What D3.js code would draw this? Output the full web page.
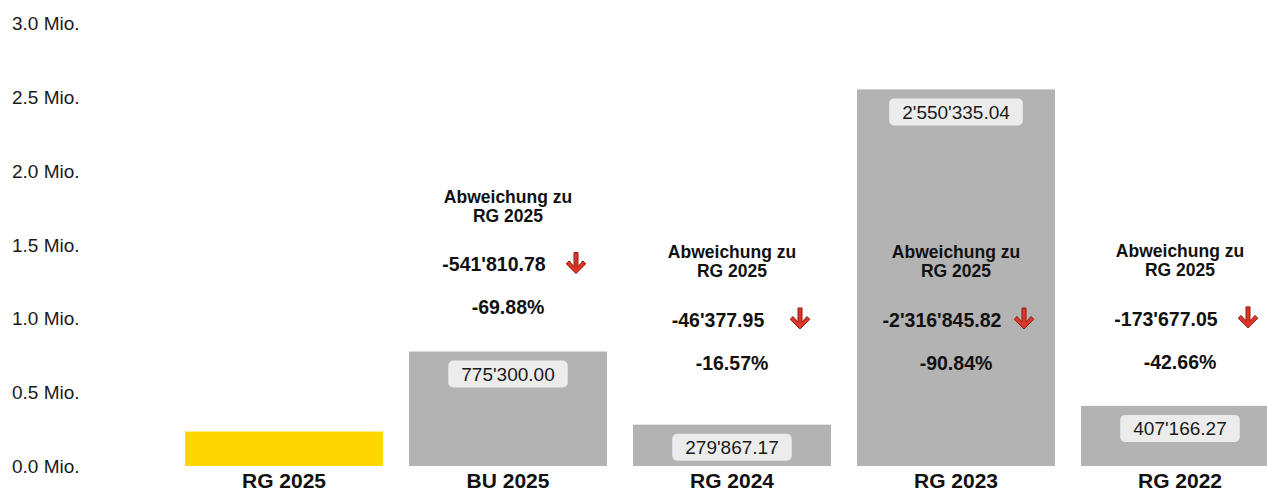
<!DOCTYPE html>
<html>
<head>
<meta charset="utf-8">
<script src="https://cdn.jsdelivr.net/npm/d3@7"></script>
<style>
  html, body { margin: 0; padding: 0; background: #ffffff; overflow: hidden; }
  svg { display: block; font-family: "Liberation Sans", Arial, Helvetica, sans-serif; }
</style>
</head>
<body>
<svg id="chart" width="1267" height="493"></svg>
<script>
// Categories and amounts (CHF)
const categories = ["RG 2025", "BU 2025", "RG 2024", "RG 2023", "RG 2022"];
const amounts = [233489.22, 775300.00, 279867.17, 2550335.04, 407166.27];
const referenceIndex = 0; // RG 2025 is the comparison base
const deviationTitle = ["Abweichung zu", "RG 2025"];
const yTicks = [0, 500000, 1000000, 1500000, 2000000, 2500000, 3000000];

const svg = d3.select("#chart");

const x = d3.scaleBand()
  .domain(categories)
  .range([172, 1292])
  .paddingInner(26 / 224)
  .paddingOuter(13 / 224);

const y = d3.scaleLinear()
  .domain([0, 3000000])
  .range([466, 23]);

const swiss = v => d3.format(",.2f")(v).replace(/,/g, "'");
const signed = (v, f) => (v < 0 ? "-" : "") + f(Math.abs(v));
const fmtPct = p => signed(p, a => d3.format(".2f")(a)) + "%";
const fmtMio = v => d3.format(".1f")(v / 1e6) + " Mio.";

// Y axis: labels only
const yAxis = d3.axisLeft(y).tickValues(yTicks).tickFormat(fmtMio).tickSize(0);
const yg = svg.append("g").attr("transform", "translate(12,0)").call(yAxis);
yg.select(".domain").remove();
yg.selectAll("text")
  .attr("x", 0)
  .attr("text-anchor", "start")
  .attr("dy", "0.35em")
  .style("font-size", "19px")
  .style("font-family", "\"Liberation Sans\", Arial, sans-serif")
  .attr("fill", "#1a1a1a");

// X axis: bold category labels under the bars
const xAxis = d3.axisBottom(x).tickSize(0);
const xg = svg.append("g").attr("transform", `translate(0,${y(0)})`).call(xAxis);
xg.select(".domain").remove();
xg.selectAll("text")
  .attr("y", 0)
  .attr("dy", "1.05em")
  .style("font-size", "21px")
  .style("font-weight", "bold")
  .style("font-family", "\"Liberation Sans\", Arial, sans-serif")
  .attr("fill", "#111");

const rows = categories.map((c, i) => ({ c, v: amounts[i], i }));

// Bars
svg.append("g").selectAll("rect")
  .data(rows)
  .join("rect")
  .attr("x", d => x(d.c))
  .attr("y", d => y(d.v))
  .attr("width", x.bandwidth())
  .attr("height", d => y(0) - y(d.v))
  .attr("fill", d => d.i === referenceIndex ? "#ffd700" : "#b3b3b3");

// Value pills inside comparison bars
const pills = svg.append("g").selectAll("g")
  .data(rows.filter(d => d.i !== referenceIndex))
  .join("g")
  .attr("transform", d => `translate(${x(d.c) + x.bandwidth() / 2},${y(d.v) + 9})`);

pills.each(function (d) {
  const g = d3.select(this);
  const t = g.append("text")
    .attr("x", 0)
    .attr("y", 13.5)
    .attr("dy", "0.35em")
    .attr("text-anchor", "middle")
    .style("font-size", "19px")
    .attr("fill", "#1a1a1a")
    .text(swiss(d.v));
  const w = t.node().getComputedTextLength() + 26;
  g.insert("rect", "text")
    .attr("x", -w / 2)
    .attr("y", 0)
    .attr("width", w)
    .attr("height", 27)
    .attr("rx", 5)
    .attr("fill", "#ececec");
});

// Deviation annotations relative to the reference amount
const base = amounts[referenceIndex];
const defaultPctY = 363;
const blockHeight = 111; // from first title line to percentage line
const arrowPath = "M-2,-10 L2,-10 L2,4 L7,-1.5 L9.8,1.3 L0,11 L-9.8,1.3 L-7,-1.5 L-2,4 Z";

const notes = svg.append("g").selectAll("g")
  .data(rows.filter(d => d.i !== referenceIndex))
  .join("g")
  .attr("transform", d => {
    const top = y(d.v);
    const fitsInside = top < defaultPctY - blockHeight - 30;
    const pctY = fitsInside ? defaultPctY : Math.min(defaultPctY, top - 44);
    return `translate(${x(d.c) + x.bandwidth() / 2},${pctY})`;
  });

notes.each(function (d) {
  const g = d3.select(this);
  const diff = base - d.v;
  const pct = diff / d.v * 100;
  deviationTitle.forEach((line, k) => {
    g.append("text")
      .attr("x", 0)
      .attr("y", -111 + k * 19)
      .attr("dy", "0.35em")
      .attr("text-anchor", "middle")
      .style("font-size", "17.5px")
      .style("font-weight", "bold")
      .attr("fill", "#111")
      .text(line);
  });
  g.append("text")
    .attr("x", -14)
    .attr("y", -43)
    .attr("dy", "0.35em")
    .attr("text-anchor", "middle")
    .style("font-size", "19.5px")
    .style("font-weight", "bold")
    .attr("fill", "#111")
    .text(signed(diff, swiss));
  g.append("path")
    .attr("d", arrowPath)
    .attr("transform", "translate(68,-45)")
    .attr("fill", "#dd3526")
    .attr("stroke", "#8e1d12")
    .attr("stroke-width", 1)
    .attr("stroke-linejoin", "round");
  g.append("text")
    .attr("x", 0)
    .attr("y", 0)
    .attr("dy", "0.35em")
    .attr("text-anchor", "middle")
    .style("font-size", "19.5px")
    .style("font-weight", "bold")
    .attr("fill", "#111")
    .text(fmtPct(pct));
});
</script>
</body>
</html>
